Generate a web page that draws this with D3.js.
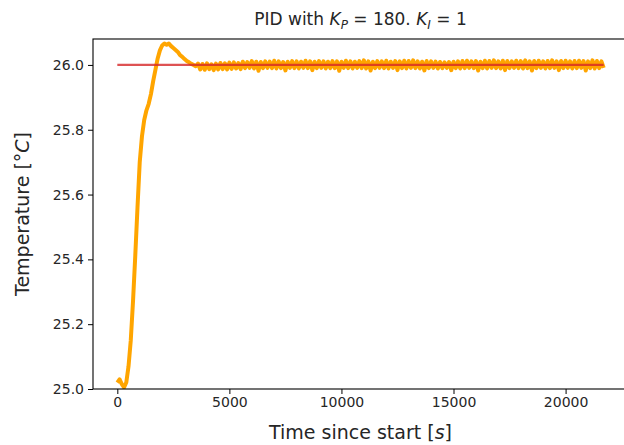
<!DOCTYPE html>
<html><head><meta charset="utf-8">
<script src="https://cdn.jsdelivr.net/npm/d3@7"></script>
<style>
html,body{margin:0;padding:0;background:#fff;}
svg text{font-family:"DejaVu Sans",sans-serif;fill:#262626;}
</style></head>
<body><svg id="chart" width="624" height="445"></svg>
<script>
// ---- data ----
const setpoint = 26.0;
const setpointTime = [0, 21700];
const riseTime = [0,100,200,300,400,500,600,700,800,900,1000,1100,1200,1300,1400,1500,1600,1700,1800,1900,2000,2100,2200,2300,2400,2500,2600,2700,2800,2900,3000,3100,3200,3300,3400,3500];
const riseTemp = [25.02,25.03,25.015,25.005,25.02,25.07,25.15,25.27,25.41,25.56,25.70,25.78,25.83,25.86,25.88,25.91,25.95,25.985,26.02,26.045,26.06,26.066,26.062,26.066,26.058,26.052,26.046,26.04,26.03,26.025,26.018,26.012,26.008,26.003,26.0,25.996];
const steadyStart = 3600, steadyStep = 100;
const steadyTemp = [
26.004,25.986,26.003,25.985,26.005,25.987,26.002,25.984,26.004,25.986,
26.006,25.987,26.005,25.986,26.007,25.988,26.008,25.989,26.006,25.987,
26.010,25.990,26.009,25.991,26.012,25.989,26.010,25.982,26.009,25.990,
26.011,25.991,26.010,25.990,26.013,25.989,26.011,25.990,26.009,25.983,
26.010,25.991,26.012,25.990,26.011,25.989,26.010,25.991,26.013,25.990,
26.011,25.984,26.010,25.990,26.012,25.991,26.011,25.989,26.010,25.990,
26.012,25.990,26.011,25.982,26.010,25.991,26.013,25.990,26.011,25.989,
26.010,25.991,26.012,25.990,26.014,25.989,26.011,25.983,26.010,25.990,
26.012,25.991,26.011,25.990,26.013,25.989,26.010,25.991,26.012,25.984,
26.011,25.990,26.013,25.989,26.012,25.991,26.014,25.990,26.011,25.989,
26.010,25.983,26.012,25.990,26.011,25.991,26.010,25.989,26.009,25.990,
26.008,25.991,26.009,25.984,26.010,25.990,26.011,25.989,26.012,25.990,
26.013,25.991,26.011,25.990,26.012,25.983,26.010,25.990,26.013,25.989,
26.012,25.991,26.014,25.990,26.011,25.989,26.013,25.984,26.012,25.990,
26.011,25.991,26.013,25.990,26.012,25.989,26.014,25.990,26.011,25.983,
26.012,25.990,26.013,25.991,26.011,25.989,26.012,25.990,26.014,25.991,
26.011,25.984,26.012,25.990,26.013,25.991,26.011,25.989,26.012,25.990,
26.013,25.991,26.012,25.983,26.011,25.990,26.014,25.989,26.012,25.990,
26.011,25.991];
const xTicks = [0,5000,10000,15000,20000];
const yTicks = [25.0,25.2,25.4,25.6,25.8,26.0];

// ---- layout ----
const svg = d3.select("#chart");
const L = 93, R = 628, T = 39, B = 389;
const x = d3.scaleLinear().domain([-1085, 22785]).range([L, R]);
const y = d3.scaleLinear().domain([25.0, 26.08]).range([B, T]);

const series = riseTime.map((t,i)=>({t, v: riseTemp[i]}))
  .concat(steadyTemp.map((v,i)=>({t: steadyStart + i*steadyStep, v})));

const g = svg.append("g");
g.append("defs").append("clipPath").attr("id","clip")
  .append("rect").attr("x",L).attr("y",T).attr("width",R-L).attr("height",B-T);

const line = d3.line().x(d=>x(d.t)).y(d=>y(d.v));
g.append("path").datum(series).attr("d", line)
  .attr("fill","none").attr("stroke","#ffa500").attr("stroke-width",4)
  .attr("stroke-linejoin","round").attr("clip-path","url(#clip)");

g.append("path").datum(setpointTime.map(t=>({t, v: setpoint}))).attr("d", line)
  .attr("fill","none").attr("stroke","#d62728").attr("stroke-opacity",0.8)
  .attr("stroke-width",2.2);

// axes
const xAxis = d3.axisBottom(x).tickValues(xTicks).tickSize(5).tickPadding(3).tickFormat(d3.format("d"));
const yAxis = d3.axisLeft(y).tickValues(yTicks).tickSize(5).tickPadding(4).tickFormat(d3.format(".1f"));
const gx = g.append("g").attr("transform",`translate(0,${B})`).call(xAxis);
const gy = g.append("g").attr("transform",`translate(${L},0)`).call(yAxis);
[gx,gy].forEach(a=>{
  a.select(".domain").remove();
  a.selectAll(".tick line").attr("stroke","#000").attr("stroke-width",1);
  a.selectAll(".tick text").attr("font-size",14).attr("fill","#262626").style("font-family","DejaVu Sans");
});
// frame
g.append("rect").attr("x",L).attr("y",T).attr("width",R-L).attr("height",B-T)
  .attr("fill","none").attr("stroke","#000").attr("stroke-width",1.1);

// labels
const title = svg.append("text").attr("x",(L+R)/2).attr("y",25).attr("text-anchor","middle").attr("font-size",17);
title.append("tspan").text("PID with ");
title.append("tspan").attr("font-style","italic").text("K");
title.append("tspan").attr("font-style","italic").attr("font-size",12).attr("dy",4).text("P");
title.append("tspan").attr("dy",-4).text(" = 180. ");
title.append("tspan").attr("font-style","italic").text("K");
title.append("tspan").attr("font-style","italic").attr("font-size",12).attr("dy",4).text("I");
title.append("tspan").attr("dy",-4).text(" = 1");

const xl = svg.append("text").attr("x",(L+R)/2).attr("y",439).attr("text-anchor","middle").attr("font-size",19);
xl.append("tspan").text("Time since start [");
xl.append("tspan").attr("font-style","italic").text("s");
xl.append("tspan").text("]");

const yl = svg.append("text").attr("transform",`translate(29,${(T+B)/2}) rotate(-90)`).attr("text-anchor","middle").attr("font-size",19);
yl.append("tspan").text("Temperature [°");
yl.append("tspan").attr("font-style","italic").text("C");
yl.append("tspan").text("]");
</script></body></html>
